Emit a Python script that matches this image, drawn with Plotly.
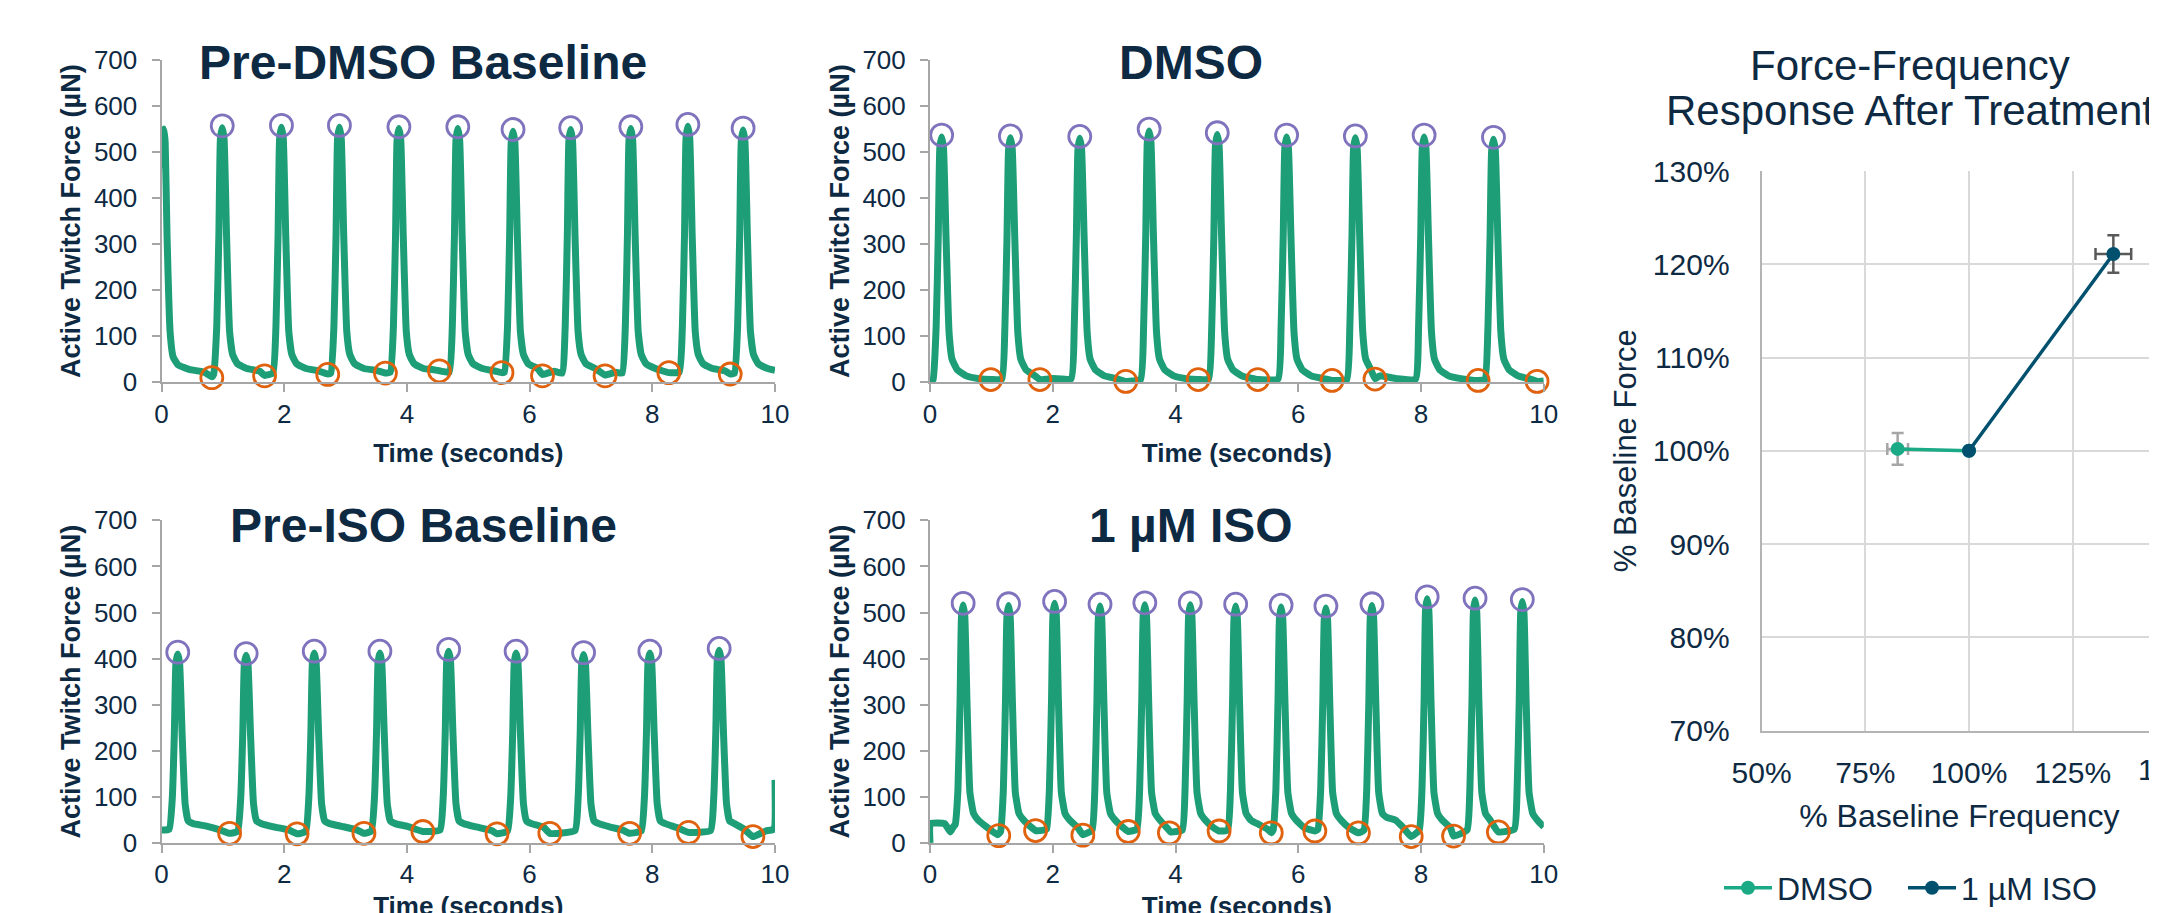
import plotly.graph_objects as go

W, H = 2157, 913
OFF = 8  # the page body keeps an 8 px margin around the figure
NAVY = "#0E2A43"
GREEN = "#1D9E76"
PURPLE = "#7F73BE"
ORANGE = "#E0620E"
AXIS = "#A6A6A6"
DMSO_C = "#1AAA86"
ISO_C = "#00506E"
ARIAL = "Liberation Sans, Arial, sans-serif"

# ---------------- data: Pre-DMSO baseline (time s, force uN) ----------------
pre_dmso_trace = [
    (0.00, 465), (0.02, 530), (0.04, 550), (0.06, 520), (0.09, 320), (0.14, 110), (0.19, 55),
    (0.27, 38), (0.45, 28), (0.70, 22), (0.82, 12),
    (0.85, 18), (0.90, 120), (0.935, 320), (0.96, 528), (0.99, 553), (1.02, 528), (1.06, 320),
    (1.11, 110), (1.16, 60), (1.24, 40), (1.39, 30), (1.60, 24), (1.68, 15),
    (1.815, 20), (1.865, 120), (1.90, 320), (1.925, 529), (1.955, 554), (1.985, 529), (2.025, 320),
    (2.075, 110), (2.125, 60), (2.205, 40), (2.355, 30), (2.55, 25), (2.71, 18),
    (2.76, 20), (2.81, 120), (2.845, 320), (2.87, 529), (2.90, 554), (2.93, 529), (2.97, 320),
    (3.02, 110), (3.07, 60), (3.15, 40), (3.30, 30), (3.50, 26), (3.65, 20),
    (3.73, 22), (3.78, 120), (3.815, 320), (3.84, 526), (3.87, 551), (3.90, 526), (3.94, 320),
    (3.99, 110), (4.04, 60), (4.12, 40), (4.27, 30), (4.45, 27), (4.53, 25),
    (4.69, 22), (4.74, 120), (4.775, 320), (4.80, 526), (4.83, 551), (4.86, 526), (4.90, 320),
    (4.95, 110), (5.00, 60), (5.08, 40), (5.23, 30), (5.45, 24), (5.55, 21),
    (5.59, 22), (5.64, 120), (5.675, 320), (5.70, 520), (5.73, 545), (5.76, 520), (5.80, 320),
    (5.85, 110), (5.90, 60), (5.98, 40), (6.13, 30), (6.21, 17),
    (6.40, 24), (6.53, 20), (6.58, 120), (6.615, 320), (6.64, 524), (6.67, 549), (6.70, 524),
    (6.74, 320), (6.79, 110), (6.84, 60), (6.92, 40), (7.07, 30), (7.23, 16),
    (7.40, 22), (7.51, 20), (7.56, 120), (7.595, 320), (7.62, 526), (7.65, 551), (7.68, 526),
    (7.72, 320), (7.77, 110), (7.82, 60), (7.90, 40), (8.05, 30), (8.27, 21),
    (8.44, 22), (8.49, 120), (8.525, 320), (8.55, 531), (8.58, 556), (8.61, 531), (8.65, 320),
    (8.70, 110), (8.75, 60), (8.83, 40), (8.98, 30), (9.18, 25), (9.27, 18),
    (9.34, 20), (9.39, 120), (9.425, 320), (9.45, 523), (9.48, 548), (9.51, 523), (9.55, 320),
    (9.60, 110), (9.65, 60), (9.73, 40), (9.88, 30), (10.00, 26),
]
pre_dmso_peak_t = [0.99, 1.955, 2.90, 3.87, 4.83, 5.73, 6.67, 7.65, 8.58, 9.48]
pre_dmso_peak_f = [557, 558, 558, 555, 555, 549, 553, 555, 560, 552]
pre_dmso_trough_t = [0.82, 1.68, 2.71, 3.65, 4.53, 5.55, 6.21, 7.23, 8.27, 9.27]
pre_dmso_trough_f = [10, 14, 17, 20, 25, 21, 14, 14, 21, 18]

# ---------------- data: DMSO ----------------
dmso_trace = [
    (0.00, 0), (0.05, 6), (0.10, 120), (0.135, 320), (0.16, 508), (0.19, 533), (0.22, 508),
    (0.26, 320), (0.31, 110), (0.36, 50), (0.44, 28), (0.59, 14), (0.79, 8), (0.99, 6),
    (1.17, 7), (1.22, 120), (1.255, 320), (1.28, 506), (1.31, 531), (1.34, 506), (1.38, 320),
    (1.43, 110), (1.48, 50), (1.56, 28), (1.71, 14), (1.79, 6), (2.00, 8),
    (2.30, 8), (2.35, 120), (2.385, 320), (2.41, 505), (2.44, 530), (2.47, 505), (2.51, 320),
    (2.56, 110), (2.61, 50), (2.69, 28), (2.84, 14), (3.04, 8), (3.19, 2),
    (3.43, 6), (3.48, 120), (3.515, 320), (3.54, 521), (3.57, 546), (3.60, 521), (3.64, 320),
    (3.69, 110), (3.74, 50), (3.82, 28), (3.97, 14), (4.17, 8), (4.37, 6),
    (4.54, 7), (4.59, 120), (4.625, 320), (4.65, 513), (4.68, 538), (4.71, 513), (4.75, 320),
    (4.80, 110), (4.85, 50), (4.93, 28), (5.08, 14), (5.34, 6),
    (5.67, 7), (5.72, 120), (5.755, 320), (5.78, 508), (5.81, 533), (5.84, 508), (5.88, 320),
    (5.93, 110), (5.98, 50), (6.06, 28), (6.21, 14), (6.41, 8), (6.55, 4),
    (6.79, 6), (6.84, 120), (6.875, 320), (6.90, 506), (6.93, 531), (6.96, 506), (7.00, 320),
    (7.05, 110), (7.10, 50), (7.18, 28), (7.25, 8), (7.33, 14), (7.60, 8),
    (7.91, 7), (7.96, 120), (7.995, 320), (8.02, 508), (8.05, 533), (8.08, 508), (8.12, 320),
    (8.17, 110), (8.22, 50), (8.30, 28), (8.45, 14), (8.65, 8), (8.93, 4),
    (9.04, 6), (9.09, 120), (9.125, 320), (9.15, 503), (9.18, 528), (9.21, 503), (9.25, 320),
    (9.30, 110), (9.35, 50), (9.43, 28), (9.58, 14), (9.78, 7), (9.89, 2), (10.00, 3),
]
dmso_peak_t = [0.19, 1.31, 2.44, 3.57, 4.68, 5.81, 6.93, 8.05, 9.18]
dmso_peak_f = [537, 535, 534, 550, 542, 537, 535, 537, 532]
dmso_trough_t = [0.99, 1.79, 3.19, 4.37, 5.34, 6.55, 7.25, 8.93, 9.89]
dmso_trough_f = [6, 6, 2, 6, 6, 4, 7, 4, 2]

# ---------------- data: Pre-ISO baseline ----------------
pre_iso_trace = [
    (0.00, 28), (0.125, 30), (0.175, 95), (0.21, 240), (0.235, 390), (0.265, 410), (0.295, 390),
    (0.335, 240), (0.385, 85), (0.435, 48), (0.515, 42), (0.715, 37), (0.965, 28), (1.11, 21),
    (1.24, 25), (1.29, 95), (1.325, 240), (1.35, 387), (1.38, 407), (1.41, 387), (1.45, 240),
    (1.50, 85), (1.55, 48), (1.63, 42), (1.83, 35), (2.08, 28), (2.21, 20),
    (2.35, 25), (2.40, 95), (2.435, 240), (2.46, 392), (2.49, 412), (2.52, 392), (2.56, 240),
    (2.61, 85), (2.66, 48), (2.74, 42), (2.94, 36), (3.19, 28), (3.30, 21),
    (3.42, 26), (3.47, 95), (3.505, 240), (3.53, 392), (3.56, 412), (3.59, 392), (3.63, 240),
    (3.68, 85), (3.73, 48), (3.81, 42), (4.01, 36), (4.26, 25),
    (4.54, 28), (4.59, 95), (4.625, 240), (4.65, 396), (4.68, 416), (4.71, 396), (4.75, 240),
    (4.80, 85), (4.85, 48), (4.93, 42), (5.13, 35), (5.38, 27), (5.47, 20),
    (5.64, 26), (5.69, 95), (5.725, 240), (5.75, 392), (5.78, 412), (5.81, 392), (5.85, 240),
    (5.90, 85), (5.95, 48), (6.03, 42), (6.23, 34), (6.33, 21),
    (6.74, 27), (6.79, 95), (6.825, 240), (6.85, 389), (6.88, 409), (6.91, 389), (6.95, 240),
    (7.00, 85), (7.05, 48), (7.13, 42), (7.33, 34), (7.52, 28), (7.63, 21),
    (7.82, 26), (7.87, 95), (7.905, 240), (7.93, 392), (7.96, 412), (7.99, 392), (8.03, 240),
    (8.08, 85), (8.13, 48), (8.21, 42), (8.41, 33), (8.59, 23),
    (8.95, 27), (9.00, 95), (9.035, 240), (9.06, 398), (9.09, 418), (9.12, 398), (9.16, 240),
    (9.21, 85), (9.26, 48), (9.34, 42), (9.50, 30), (9.64, 14), (9.85, 26), (9.98, 30), (10.00, 137),
]
pre_iso_peak_t = [0.265, 1.38, 2.49, 3.56, 4.68, 5.78, 6.88, 7.96, 9.09]
pre_iso_peak_f = [414, 411, 416, 416, 420, 416, 413, 416, 422]
pre_iso_trough_t = [1.11, 2.21, 3.30, 4.26, 5.47, 6.33, 7.63, 8.59, 9.64]
pre_iso_trough_f = [21, 20, 21, 25, 20, 21, 21, 23, 14]

# ---------------- data: 1 uM ISO ----------------
iso_trace = [
    (0.00, 0), (0.005, 42), (0.24, 42), (0.33, 24), (0.38, 35), (0.41, 40), (0.455, 115),
    (0.49, 310), (0.513, 491), (0.54, 516), (0.567, 491), (0.602, 310), (0.65, 110), (0.71, 64),
    (0.79, 49), (0.92, 35), (1.10, 18),
    (1.15, 25), (1.195, 115), (1.23, 310), (1.253, 490), (1.28, 515), (1.307, 490), (1.342, 310),
    (1.39, 110), (1.45, 64), (1.53, 49), (1.66, 33), (1.72, 27), (1.85, 28),
    (1.90, 30), (1.945, 115), (1.98, 310), (2.003, 495), (2.03, 520), (2.057, 495), (2.092, 310),
    (2.14, 110), (2.20, 64), (2.28, 49), (2.41, 33), (2.49, 18),
    (2.64, 28), (2.685, 115), (2.72, 310), (2.743, 489), (2.77, 514), (2.797, 489), (2.832, 310),
    (2.88, 110), (2.94, 64), (3.02, 49), (3.15, 33), (3.23, 25),
    (3.37, 30), (3.415, 115), (3.45, 310), (3.473, 492), (3.50, 517), (3.527, 492), (3.562, 310),
    (3.61, 110), (3.67, 64), (3.75, 49), (3.88, 30), (3.92, 24),
    (4.11, 28), (4.155, 115), (4.19, 310), (4.213, 492), (4.24, 517), (4.267, 492), (4.302, 310),
    (4.35, 110), (4.41, 64), (4.49, 49), (4.62, 33), (4.71, 26),
    (4.85, 28), (4.895, 115), (4.93, 310), (4.953, 489), (4.98, 514), (5.007, 489), (5.042, 310),
    (5.09, 110), (5.15, 64), (5.23, 49), (5.36, 40), (5.50, 30), (5.56, 22),
    (5.59, 28), (5.635, 115), (5.67, 310), (5.693, 487), (5.72, 512), (5.747, 487), (5.782, 310),
    (5.83, 110), (5.89, 64), (5.97, 49), (6.10, 33), (6.27, 26),
    (6.32, 30), (6.365, 115), (6.40, 310), (6.423, 485), (6.45, 510), (6.477, 485), (6.512, 310),
    (6.56, 110), (6.62, 64), (6.70, 49), (6.83, 33), (6.98, 22),
    (7.07, 28), (7.115, 115), (7.15, 310), (7.173, 490), (7.20, 515), (7.227, 490), (7.262, 310),
    (7.31, 110), (7.37, 64), (7.45, 55), (7.58, 50), (7.70, 35), (7.84, 14),
    (7.97, 28), (8.015, 115), (8.05, 310), (8.073, 505), (8.10, 530), (8.127, 505), (8.162, 310),
    (8.21, 110), (8.27, 64), (8.35, 49), (8.48, 33), (8.53, 15),
    (8.75, 28), (8.795, 115), (8.83, 310), (8.853, 502), (8.88, 527), (8.907, 502), (8.942, 310),
    (8.99, 110), (9.05, 64), (9.13, 49), (9.26, 24),
    (9.52, 30), (9.565, 115), (9.60, 310), (9.623, 499), (9.65, 524), (9.677, 499), (9.712, 310),
    (9.76, 110), (9.82, 64), (9.90, 49), (10.00, 35),
]
iso_peak_t = [0.54, 1.28, 2.03, 2.77, 3.50, 4.24, 4.98, 5.72, 6.45, 7.20, 8.10, 8.88, 9.65]
iso_peak_f = [520, 519, 524, 518, 521, 521, 518, 516, 514, 519, 534, 531, 528]
iso_trough_t = [1.12, 1.72, 2.49, 3.23, 3.90, 4.71, 5.56, 6.27, 6.98, 7.84, 8.53, 9.26]
iso_trough_f = [16, 27, 17, 25, 22, 26, 22, 26, 22, 14, 15, 24]

panel_titles = ["Pre-DMSO Baseline", "DMSO", "Pre-ISO Baseline", "1 µM ISO"]

# ---------------- data: force-frequency ----------------
ff_title_lines = ["Force-Frequency", "Response After Treatment"]
ff_series = ["DMSO", "1 µM ISO"]
ff_dmso_x = [0.828, 1.0]
ff_dmso_y = [1.002, 1.0]
ff_iso_x = [1.0, 1.348]
ff_iso_y = [1.0, 1.211]
ff_dmso_err_x = [0.025]
ff_dmso_err_y = [0.017]
ff_iso_err_x = [0.043]
ff_iso_err_y = [0.020]
ff_x_ticks = [0.5, 0.75, 1.0, 1.25, 1.5]
ff_y_ticks = [0.7, 0.8, 0.9, 1.0, 1.1, 1.2, 1.3]


def fx(p):
    return (p - OFF) / W


def fy(p):
    return 1 - (p - OFF) / H


fig = go.Figure()

panels = [
    ("x", "y", pre_dmso_trace, pre_dmso_peak_t, pre_dmso_peak_f, pre_dmso_trough_t, pre_dmso_trough_f),
    ("x2", "y2", dmso_trace, dmso_peak_t, dmso_peak_f, dmso_trough_t, dmso_trough_f),
    ("x3", "y3", pre_iso_trace, pre_iso_peak_t, pre_iso_peak_f, pre_iso_trough_t, pre_iso_trough_f),
    ("x4", "y4", iso_trace, iso_peak_t, iso_peak_f, iso_trough_t, iso_trough_f),
]
for xa, ya, trace, pt, pf, tt, tf in panels:
    fig.add_trace(go.Scatter(x=[p[0] for p in trace], y=[p[1] for p in trace], mode="lines",
                             line=dict(color=GREEN, width=7, shape="spline", smoothing=0.4),
                             xaxis=xa, yaxis=ya, showlegend=False, hoverinfo="skip"))
    fig.add_trace(go.Scatter(x=pt, y=pf, mode="markers", xaxis=xa, yaxis=ya, showlegend=False,
                             cliponaxis=False,
                             marker=dict(symbol="circle-open", size=22, color=PURPLE,
                                         line=dict(width=2.8, color=PURPLE))))
    fig.add_trace(go.Scatter(x=tt, y=tf, mode="markers", xaxis=xa, yaxis=ya, showlegend=False,
                             cliponaxis=False,
                             marker=dict(symbol="circle-open", size=22, color=ORANGE,
                                         line=dict(width=2.8, color=ORANGE))))

# force-frequency error bars (drawn beneath the markers)
fig.add_trace(go.Scatter(x=ff_dmso_x[:1], y=ff_dmso_y[:1], mode="markers", xaxis="x5", yaxis="y5",
                         showlegend=False, marker=dict(size=2, color="rgba(0,0,0,0)"),
                         error_x=dict(type="data", array=ff_dmso_err_x, color="#A6A6A6", thickness=2.5, width=6),
                         error_y=dict(type="data", array=ff_dmso_err_y, color="#A6A6A6", thickness=2.5, width=6)))
fig.add_trace(go.Scatter(x=ff_iso_x[1:], y=ff_iso_y[1:], mode="markers", xaxis="x5", yaxis="y5",
                         showlegend=False, marker=dict(size=2, color="rgba(0,0,0,0)"),
                         error_x=dict(type="data", array=ff_iso_err_x, color="#595959", thickness=2.5, width=6),
                         error_y=dict(type="data", array=ff_iso_err_y, color="#595959", thickness=2.5, width=6)))
fig.add_trace(go.Scatter(x=ff_dmso_x, y=ff_dmso_y, mode="lines+markers", name=ff_series[0],
                         xaxis="x5", yaxis="y5", line=dict(color=DMSO_C, width=3.5),
                         marker=dict(size=14, color=DMSO_C), legend="legend"))
fig.add_trace(go.Scatter(x=ff_iso_x, y=ff_iso_y, mode="lines+markers", name=ff_series[1],
                         xaxis="x5", yaxis="y5", line=dict(color=ISO_C, width=3.5),
                         marker=dict(size=14, color=ISO_C), legend="legend2"))

tick_font = dict(family=ARIAL, size=26, color=NAVY)


def left_x(domain, anchor):
    return dict(domain=domain, anchor=anchor, range=[0, 10], dtick=2, tick0=0, automargin=False,
                showline=True, linecolor=AXIS, linewidth=2, ticks="outside", ticklen=8,
                tickwidth=2, tickcolor=AXIS, showgrid=False, zeroline=False,
                tickfont=tick_font, ticklabelstandoff=-1,
                title=dict(text="<b>Time (seconds)</b>", font=dict(family=ARIAL, size=26, color=NAVY),
                           standoff=16))


def left_y(domain, anchor):
    return dict(domain=domain, anchor=anchor, range=[0, 700], dtick=100, tick0=0, automargin=False,
                showline=True, linecolor=AXIS, linewidth=2, ticks="outside", ticklen=8,
                tickwidth=2, tickcolor=AXIS, showgrid=False, zeroline=False,
                tickfont=tick_font, ticklabelstandoff=9,
                title=dict(text="<b>Active Twitch Force (µN)</b>",
                           font=dict(family=ARIAL, size=27, color=NAVY), standoff=5))


XL = [fx(161.5), fx(775)]
XM = [fx(930), fx(1543.8)]
YT = [fy(382.3), fy(60)]
YB = [fy(843), fy(520.3)]

ff_tick_font = dict(family=ARIAL, size=30, color=NAVY)
legend_common = dict(orientation="h", y=fy(888), xanchor="left", yanchor="middle",
                     font=dict(family=ARIAL, size=32, color=NAVY),
                     bgcolor="rgba(0,0,0,0)", itemwidth=48)

layout = dict(
    width=W, height=H, margin=dict(l=0, r=0, t=0, b=0, autoexpand=False),
    paper_bgcolor="white", plot_bgcolor="white",
    xaxis=left_x(XL, "y"), yaxis=left_y(YT, "x"),
    xaxis2=left_x(XM, "y2"), yaxis2=left_y(YT, "x2"),
    xaxis3=left_x(XL, "y3"), yaxis3=left_y(YB, "x3"),
    xaxis4=left_x(XM, "y4"), yaxis4=left_y(YB, "x4"),
    xaxis5=dict(domain=[fx(1761.6), fx(2157)], anchor="y5", automargin=False,
                range=[0.5, 0.5 + (2157 - 1761.6) / 103.7 * 0.25],
                tickvals=ff_x_ticks, tickformat=".0%", showline=True, linecolor="#B4B4B4", linewidth=2,
                showgrid=True, gridcolor="#D9D9D9", gridwidth=2, zeroline=False, ticks="",
                tickfont=ff_tick_font, ticklabelstandoff=14,
                title=dict(text="% Baseline Frequency", font=dict(family=ARIAL, size=32, color=NAVY),
                           standoff=17)),
    yaxis5=dict(domain=[fy(730.5), fy(171)], anchor="x5", range=[0.7, 1.3], automargin=False,
                tickvals=ff_y_ticks, tickformat=".0%", showline=True, linecolor="#B4B4B4", linewidth=2,
                showgrid=True, gridcolor="#D9D9D9", gridwidth=2, zeroline=False, ticks="",
                tickfont=ff_tick_font, ticklabelstandoff=24,
                title=dict(text="% Baseline Force", font=dict(family=ARIAL, size=31, color=NAVY),
                           standoff=7)),
    showlegend=True,
    legend=dict(x=fx(1719), **legend_common),
    legend2=dict(x=fx(1903), **legend_common),
)
fig.update_layout(**layout)

title_font = dict(family=ARIAL, size=48, color=NAVY)
title_pos = [(423, 62), (1191, 62), (423, 524), (1191, 524)]
for txt, (px, py) in zip(panel_titles, title_pos):
    fig.add_annotation(text="<b>" + txt + "</b>", x=fx(px), y=fy(py + 1), xref="paper", yref="paper",
                       xanchor="center", yanchor="middle", showarrow=False, font=title_font)

for txt, py in zip(ff_title_lines, [65, 110]):
    fig.add_annotation(text=txt, x=fx(1910), y=fy(py), xref="paper", yref="paper",
                       xanchor="center", yanchor="middle", showarrow=False,
                       font=dict(family=ARIAL, size=42, color=NAVY))
# tick label of the 150% gridline, which lies just past the right edge of the page
fig.add_annotation(text="150%", x=fx(1761.6 + 4 * 103.7), y=fy(769), xref="paper", yref="paper",
                   xanchor="center", yanchor="middle", showarrow=False, font=ff_tick_font)

fig.write_html("out.html")
